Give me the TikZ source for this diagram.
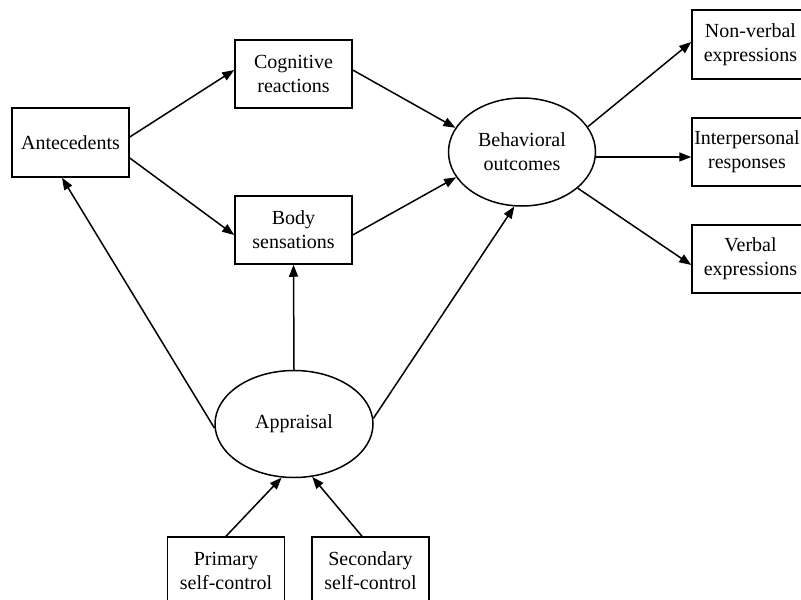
\documentclass[tikz,border=0pt]{standalone}
\usepackage{fontspec}
\setmainfont{Liberation Serif}
\usetikzlibrary{arrows.meta,shapes.geometric}
\begin{document}
\begin{tikzpicture}[x=1pt,y=-1pt,
  every node/.style={font=\fontsize{20}{24}\selectfont, align=center, inner sep=0pt},
  box/.style={draw, line width=1.5pt, rectangle, minimum width=117pt, minimum height=68pt},
  oval/.style={draw, line width=1.5pt, ellipse},
  conn/.style={line width=1.5pt, -{Triangle[length=12pt,width=9pt]}}]
\useasboundingbox (0,0) rectangle (801,600);
\node[box, minimum height=69pt] (ant) at (70.5,142.5) {Antecedents};
\node[box] (cog) at (293.5,74) {Cognitive\\reactions};
\node[box] (body) at (293.5,230) {Body\\sensations};
\node[oval, minimum width=147pt, minimum height=108pt] (beh) at (522,152) {Behavioral\\outcomes};
\node[box, minimum height=69pt] (nonv) at (750.5,44.5) {Non-verbal\\expressions};
\node[box] (inter) at (750.5,152) {};
\node (intertext) at (747,152) {Interpersonal\\responses};
\node[box] (verb) at (750.5,259) {Verbal\\expressions};
\node[oval, minimum width=158pt, minimum height=107pt] (appr) at (294,424) {Appraisal};
\node[box] (prim) at (226,571) {Primary\\self-control};
\node[box] (sec) at (370.5,571) {Secondary\\self-control};
\draw[conn] ([yshift=5.5pt]ant.east) -- ([yshift=4pt]cog.west);
\draw[conn] ([yshift=-15.5pt]ant.east) -- ([yshift=-5pt]body.west);
\draw[conn] ([yshift=4pt]cog.east) -- (beh.160);
\draw[conn] ([yshift=-5pt]body.east) -- (beh.201.8);
\draw[conn] (beh.21.8) -- ([yshift=2.5pt]nonv.west);
\draw[conn] ([yshift=-5pt]beh.east) -- ([yshift=-5pt]inter.west);
\draw[conn] (beh.-33.2) -- ([yshift=-6pt]verb.west);
\draw[conn] (appr.183) -- ([xshift=-8.5pt]ant.south);
\draw[conn] (appr.north) -- (body.south);
\draw[conn] (appr.4) -- (beh.262.6);
\draw[conn] (prim.north) -- (appr.257.7);
\draw[conn] ([xshift=-8.5pt]sec.north) -- (appr.289);
\end{tikzpicture}
\end{document}
